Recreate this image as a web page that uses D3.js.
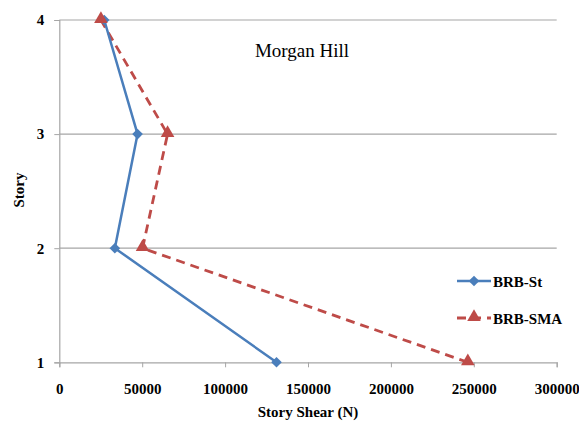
<!DOCTYPE html>
<html><head><meta charset="utf-8">
<script src="https://cdn.jsdelivr.net/npm/d3@7/dist/d3.min.js"></script>
<style>body{margin:0;background:#fff}svg{display:block}</style>
</head><body><svg id="c" width="579" height="424"></svg>
<script>
const stories = [1, 2, 3, 4];
const brbSt = [131000, 33500, 47200, 27100];
const brbSma = [246400, 50200, 65300, 25100];
const xTicks = [0, 50000, 100000, 150000, 200000, 250000, 300000];
const yTicks = [1, 2, 3, 4];
const seriesNames = ["BRB-St", "BRB-SMA"];
const title = "Morgan Hill";

const FF = "'Liberation Serif', 'Times New Roman', Times, 'DejaVu Serif', serif";
const svg = d3.select("#c");
const x = d3.scaleLinear().domain([0, 300000]).range([59.3, 556.7]);
const y = d3.scaleLinear().domain([1, 4]).range([362.3, 20]);
const grid = "#a6a6a6";

// horizontal gridlines
svg.append("g").selectAll("line").data(yTicks.filter(d => d > 1)).join("line")
  .attr("x1", x(0)).attr("x2", x(300000)).attr("y1", d => y(d)).attr("y2", d => y(d))
  .attr("stroke", grid).attr("stroke-width", 1.2);

// x axis
const xa = svg.append("g").attr("transform", `translate(0,${y(1)})`)
  .call(d3.axisBottom(x).tickValues(xTicks).tickFormat(d3.format("d")).tickSize(5).tickPadding(16));
xa.attr("font-family", null);
xa.select(".domain").attr("stroke", grid).attr("stroke-width", 1.2);
xa.selectAll(".tick line").attr("stroke", grid);
xa.selectAll("text").style("font-size", "15px").style("font-weight", "bold").style("font-family", FF).attr("fill", "#000");

// y axis
const ya = svg.append("g").attr("transform", `translate(${x(0)},0)`)
  .call(d3.axisLeft(y).tickValues(yTicks).tickFormat(d3.format("d")).tickSize(5).tickPadding(10));
ya.attr("font-family", null);
ya.select(".domain").attr("stroke", grid).attr("stroke-width", 1.2);
ya.selectAll(".tick line").attr("stroke", grid);
ya.selectAll("text").style("font-size", "15px").style("font-weight", "bold").style("font-family", FF).attr("fill", "#000");

const blue = "#4A7EBB", red = "#BE4B48";
const line = d3.line().x(d => x(d[0])).y(d => y(d[1]));
const stPts = brbSt.map((v, i) => [v, stories[i]]);
const smaPts = brbSma.map((v, i) => [v, stories[i]]);

svg.append("path").datum(smaPts).attr("d", line).attr("fill", "none")
  .attr("stroke", red).attr("stroke-width", 2.8).attr("stroke-dasharray", "9,6");
svg.append("path").datum(stPts).attr("d", line).attr("fill", "none")
  .attr("stroke", blue).attr("stroke-width", 2.5);

const diamond = d3.symbol().type(d3.symbolDiamond2).size(72);
const tri = d3.symbol().type(d3.symbolTriangle).size(80);
svg.append("g").selectAll("path").data(stPts).join("path")
  .attr("d", diamond).attr("transform", d => `translate(${x(d[0])},${y(d[1])})`).attr("fill", blue);
svg.append("g").selectAll("path").data(smaPts).join("path")
  .attr("d", tri).attr("transform", d => `translate(${x(d[0])},${y(d[1]) - 1})`).attr("fill", red);

function txt(sel) { return sel.style("font-family", FF).attr("fill", "#000"); }

// title
txt(svg.append("text")).attr("x", 302).attr("y", 57).attr("text-anchor", "middle")
  .style("font-size", "19px").text(title);

// axis titles
txt(svg.append("text")).attr("x", 308).attr("y", 417).attr("text-anchor", "middle")
  .style("font-size", "15px").style("font-weight", "bold").text("Story Shear (N)");
txt(svg.append("text")).attr("transform", "translate(24,190) rotate(-90)").attr("text-anchor", "middle")
  .style("font-size", "15px").style("font-weight", "bold").text("Story");

// legend
const lg = svg.append("g");
lg.append("line").attr("x1", 457).attr("x2", 491).attr("y1", 281).attr("y2", 281)
  .attr("stroke", blue).attr("stroke-width", 2.5);
lg.append("path").attr("d", diamond).attr("transform", "translate(474,281)").attr("fill", blue);
txt(lg.append("text")).attr("x", 493).attr("y", 286.5).style("font-size", "15px").style("font-weight", "bold").text(seriesNames[0]);
lg.append("line").attr("x1", 457).attr("x2", 491).attr("y1", 318).attr("y2", 318)
  .attr("stroke", red).attr("stroke-width", 2.8).attr("stroke-dasharray", "9,6");
lg.append("path").attr("d", tri).attr("transform", "translate(474,317)").attr("fill", red);
txt(lg.append("text")).attr("x", 493).attr("y", 323.5).style("font-size", "15px").style("font-weight", "bold").text(seriesNames[1]);
</script></body></html>
